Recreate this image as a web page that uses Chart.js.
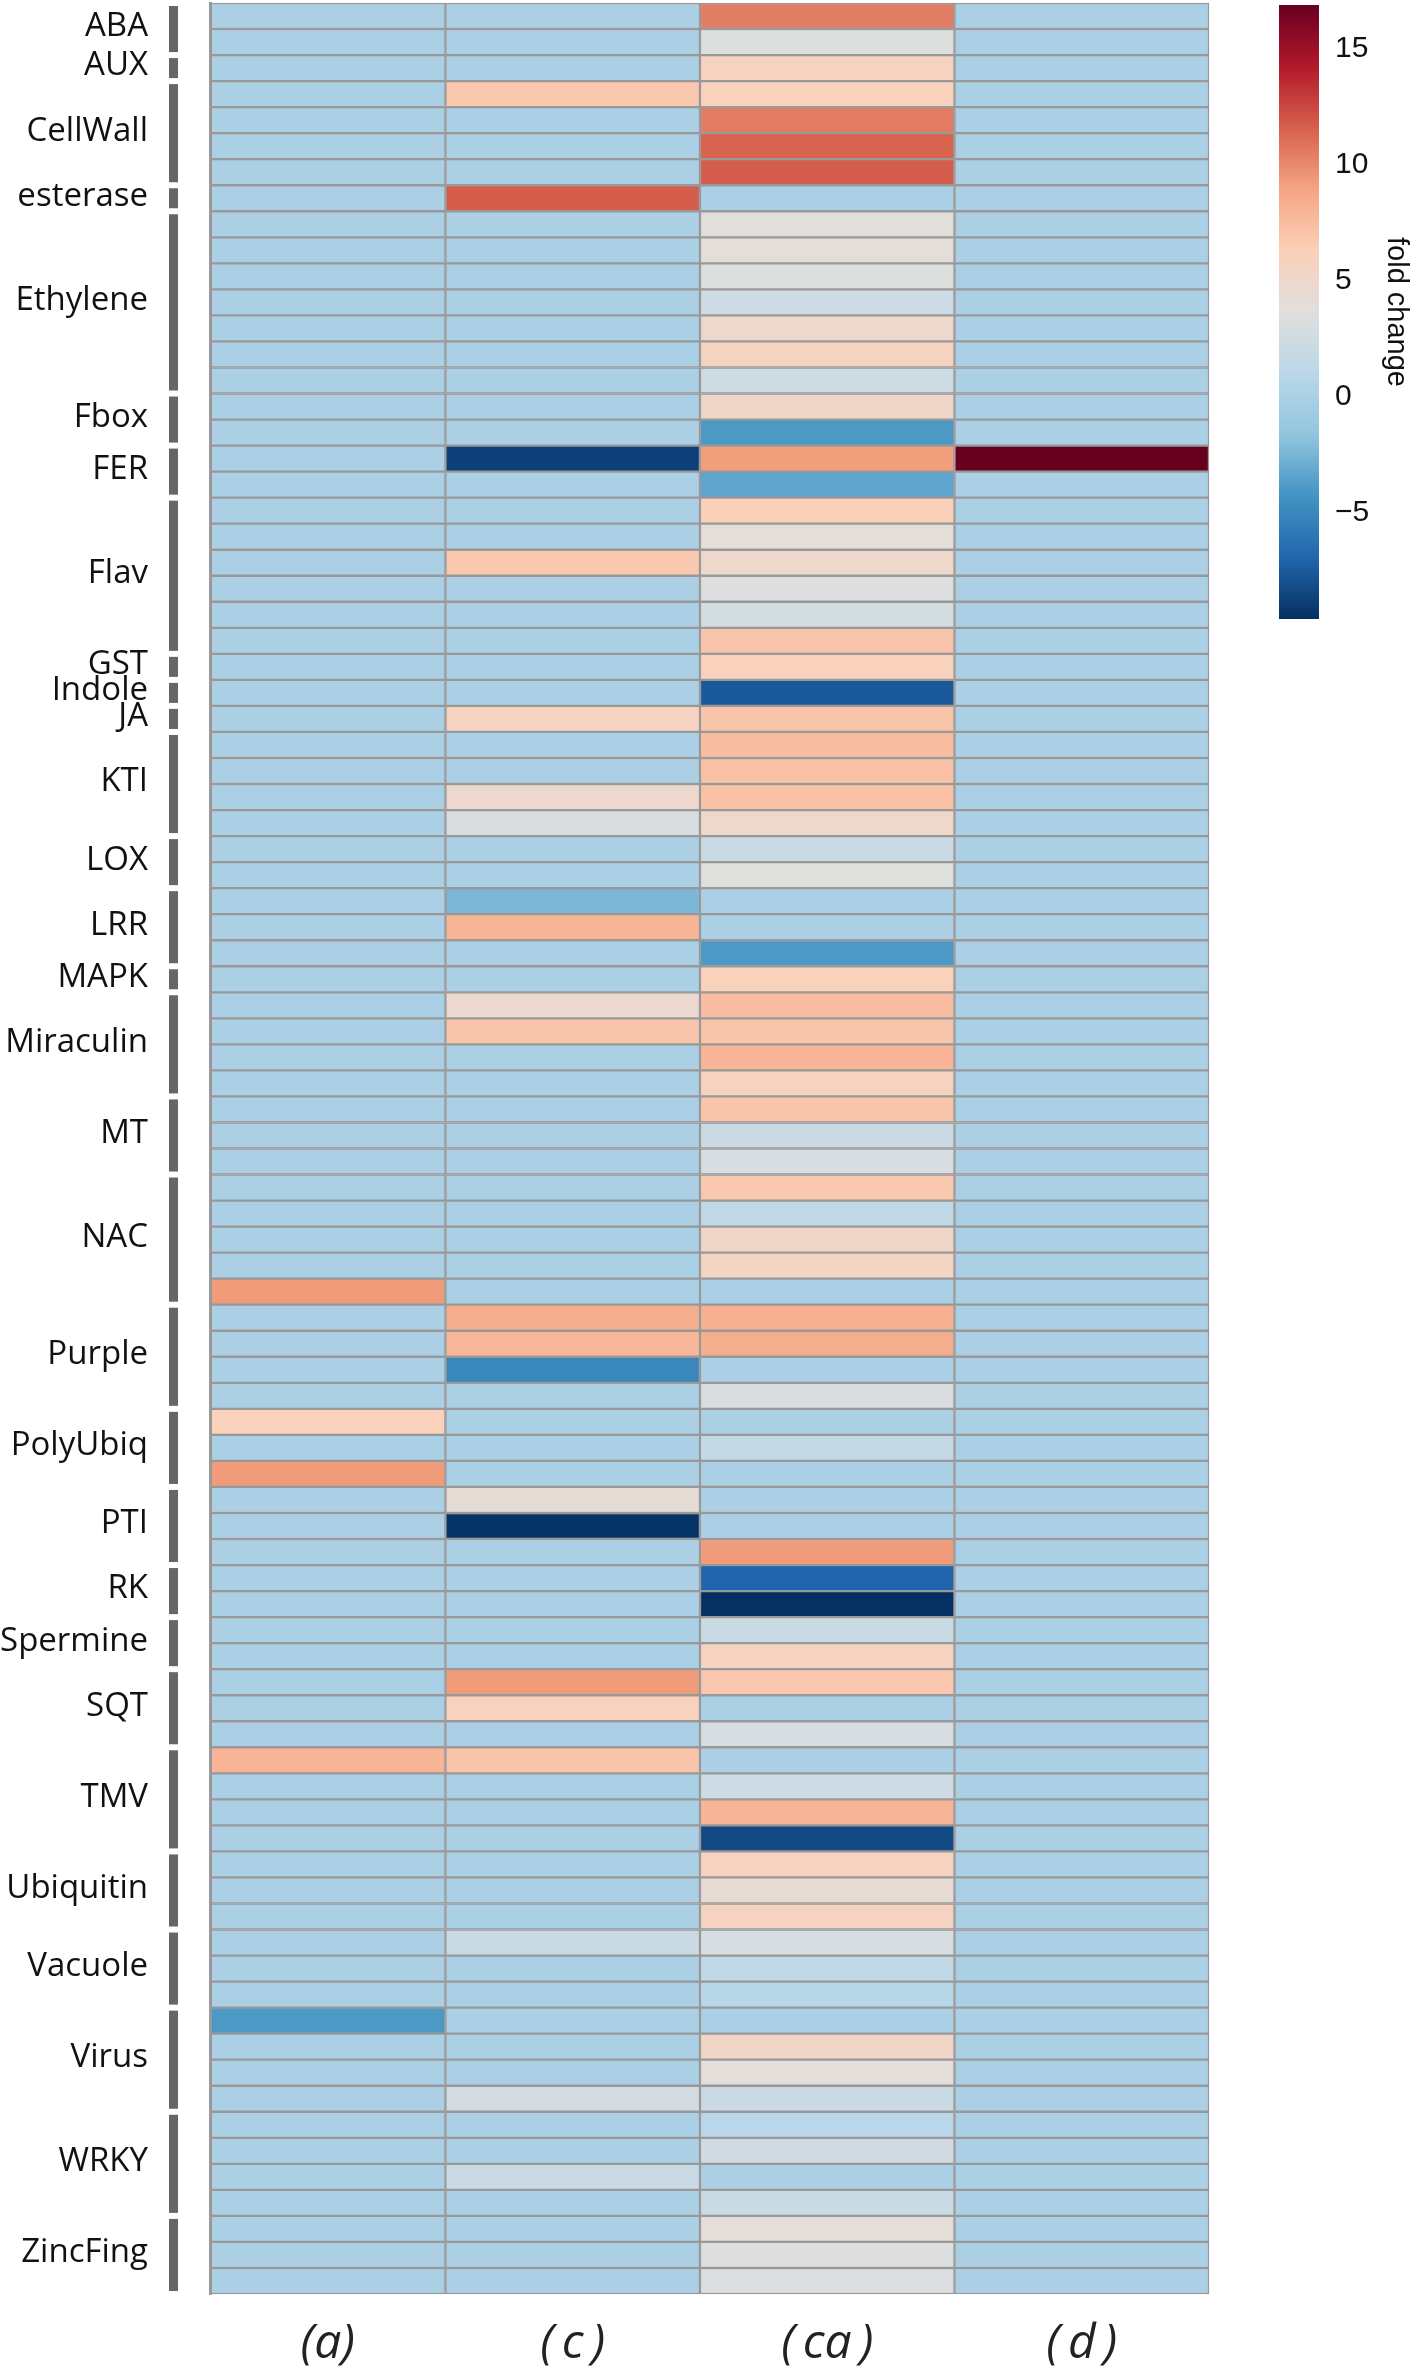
<!DOCTYPE html>
<html>
<head>
<meta charset="utf-8">
<title>fold change heatmap</title>
<script src="https://cdn.jsdelivr.net/npm/chart.js@4.4.1/dist/chart.umd.min.js"></script>
<style>
  html, body { margin: 0; padding: 0; background: #fff; }
  #wrap { position: relative; width: 1418px; height: 2372px; overflow: hidden; }
  #heat { position: absolute; left: 0; top: 0; width: 1418px; height: 2372px; }
  #bar { position: absolute; left: 1279px; top: 0; width: 139px; height: 640px; }
</style>
</head>
<body>
<div id="wrap">
  <canvas id="heat" width="1418" height="2372"></canvas>
  <canvas id="bar" width="139" height="640"></canvas>
</div>
<script>
// gene groups (top to bottom) and how many rows each one has
const groups = ["ABA", "AUX", "CellWall", "esterase", "Ethylene", "Fbox", "FER", "Flav", "GST", "Indole",
  "JA", "KTI", "LOX", "LRR", "MAPK", "Miraculin", "MT", "NAC", "Purple", "PolyUbiq",
  "PTI", "RK", "Spermine", "SQT", "TMV", "Ubiquitin", "Vacuole", "Virus", "WRKY", "ZincFing"];
const groupSizes = [2, 1, 4, 1, 7, 2, 2, 6, 1, 1,
  1, 4, 2, 3, 1, 4, 3, 5, 4, 3,
  3, 2, 2, 3, 4, 3, 3, 4, 4, 3];

const columns = ["(a)", "(\u2009c\u2009)", "(\u2009ca\u2009)", "(\u2009d\u2009)"];

// fold change per row, one array per column (rows in group order)
const valsA = [
  0, 0,  0,  0, 0, 0, 0,  0,  0, 0, 0, 0, 0, 0, 0,  0, 0,  0, 0,
  0, 0, 0, 0, 0, 0,  0,  0,  0,  0, 0, 0, 0,  0, 0,  0, 0, 0,  0,
  0, 0, 0, 0,  0, 0, 0,  0, 0, 0, 0, 9.3,  0, 0, 0, 0,  6.2, 0, 9.3,
  0, 0, 0,  0, 0,  0, 0,  0, 0, 0,  8.0, 0, 0, 0,  0, 0, 0,  0, 0, 0,
  -4.0, 0, 0, 0,  0, 0, 0, 0,  0, 0, 0
];
const valsC = [
  0, 0,  0,  6.8, 0, 0, 0,  11.7,  0, 0, 0, 0, 0, 0, 0,  0, 0,  -8.8, 0,
  0, 0, 6.8, 0, 0, 0,  0,  0,  5.7,  0, 0, 4.8, 3.1,  0, 0,  -2.4, 8.0, 0,  0,
  4.7, 7.0, 0, 0,  0, 0, 0,  0, 0, 0, 0, 0,  8.4, 7.8, -5.0, 0,  0, 0, 0,
  4.2, -9.4, 0,  0, 0,  0, 0,  9.3, 6.0, 0,  7.0, 0, 0, 0,  0, 0, 0,  2.1, 0, 0,
  0, 0, 0, 2.8,  0, 0, 2.0, 0,  0, 0, 0
];
const valsCA = [
  10.5, 3.4,  5.8,  6.2, 10.5, 11.5, 11.7,  0,  3.8, 3.9, 3.4, 2.2, 4.8, 5.8, 2.2,  5.2, -4.0,  9.2, -3.4,
  6.3, 4.0, 5.0, 3.3, 2.7, 7.0,  6.0,  -7.6,  7.0,  7.5, 7.3, 7.2, 5.0,  2.0, 3.5,  0, 0, -4.0,  6.2,
  7.5, 7.0, 8.0, 5.8,  7.0, 2.0, 3.0,  6.8, 1.5, 5.2, 5.5, 0,  8.2, 8.4, 0, 3.1,  0, 1.6, 0,
  0, 0, 9.3,  -7.0, -9.6,  2.0, 5.8,  6.8, 0, 3.0,  0, 2.2, 8.0, -8.3,  5.8, 4.3, 5.8,  3.0, 1.5, 0.8,
  0, 5.3, 3.9, 2.0,  1.0, 2.5, 0, 2.0,  4.0, 3.3, 3.3
];
const valsD = [
  0, 0,  0,  0, 0, 0, 0,  0,  0, 0, 0, 0, 0, 0, 0,  0, 0,  16.9, 0,
  0, 0, 0, 0, 0, 0,  0,  0,  0,  0, 0, 0, 0,  0, 0,  0, 0, 0,  0,
  0, 0, 0, 0,  0, 0, 0,  0, 0, 0, 0, 0,  0, 0, 0, 0,  0, 0, 0,
  0, 0, 0,  0, 0,  0, 0,  0, 0, 0,  0, 0, 0, 0,  0, 0, 0,  0, 0, 0,
  0, 0, 0, 0,  0, 0, 0, 0,  0, 0, 0
];

// colour scale limits and colour bar ticks
const vMin = -9.6;
const vMax = 16.9;
const cbTicks = [-5, 0, 5, 10, 15];

// RdBu_r style colour map, evenly spaced stops
const cmapStops = ["#053061", "#2166ac", "#4393c3", "#92c5de", "#bad7e9", "#e1dfdd",
  "#fbd0b9", "#f4a582", "#d6604d", "#b2182b", "#67001f"];

function hexToRgb(h) {
  return [parseInt(h.slice(1, 3), 16), parseInt(h.slice(3, 5), 16), parseInt(h.slice(5, 7), 16)];
}
const stopRgb = cmapStops.map(hexToRgb);

function colorFor(v) {
  let t = (v - vMin) / (vMax - vMin);
  t = Math.max(0, Math.min(1, t));
  const pos = t * (stopRgb.length - 1);
  const i = Math.min(Math.floor(pos), stopRgb.length - 2);
  const f = pos - i;
  const a = stopRgb[i], b = stopRgb[i + 1];
  const c = a.map((x, k) => Math.round(x + (b[k] - x) * f));
  return "rgb(" + c.join(",") + ")";
}

const rowLabels = [];
groups.forEach((g, i) => {
  for (let k = 0; k < groupSizes[i]; k++) rowLabels.push(g);
});

// group names and dark bars on the left of the heatmap
const groupBars = {
  id: "groupBars",
  afterDraw(chart) {
    const ctx = chart.ctx;
    const y = chart.scales.y;
    const band = y.getPixelForValue(1) - y.getPixelForValue(0);
    let start = 0;
    ctx.save();
    ctx.font = '33px "Open Sans"';
    ctx.textAlign = "right";
    ctx.textBaseline = "middle";
    groups.forEach((name, g) => {
      const end = start + groupSizes[g] - 1;
      const top = y.getPixelForValue(start) - band / 2;
      const bottom = y.getPixelForValue(end) + band / 2;
      ctx.fillStyle = "#666";
      ctx.fillRect(169, top + 3, 9, bottom - top - 6);
      ctx.fillStyle = "#111";
      ctx.fillText(name, 148, (top + bottom) / 2 - 2);
      start = end + 1;
    });
    ctx.restore();
  }
};

const seriesVals = [valsA, valsC, valsCA, valsD];
const xMin = 0.075; // first column is partly cut off, as in the figure

new Chart(document.getElementById("heat"), {
  type: "bar",
  data: {
    labels: rowLabels,
    datasets: seriesVals.map((vals, c) => ({
      label: columns[c],
      data: vals.map(() => [c, c + 1]),
      backgroundColor: vals.map(colorFor),
      borderColor: "#999",
      borderWidth: 1.5,
      borderSkipped: false,
      grouped: false,
      barPercentage: 1,
      categoryPercentage: 1,
      clip: { left: 0, top: false, right: false, bottom: false }
    }))
  },
  options: {
    indexAxis: "y",
    responsive: false,
    maintainAspectRatio: false,
    animation: false,
    layout: { padding: { left: 210, right: 209, top: 3, bottom: 0 } },
    plugins: { legend: { display: false }, tooltip: { enabled: false } },
    scales: {
      x: {
        type: "linear",
        position: "bottom",
        min: xMin,
        max: columns.length,
        grid: { display: false, drawTicks: false },
        border: { display: false },
        ticks: {
          font: { family: '"Open Sans"', size: 48, style: "italic" },
          color: "#222",
          padding: 22,
          maxRotation: 0,
          callback: (v, i) => columns[i]
        },
        // one tick in the middle of each visible column
        afterBuildTicks: s => {
          s.ticks = columns.map((c, i) => ({ value: (Math.max(i, xMin) + i + 1) / 2 }));
        },
        afterFit: s => { s.height = 78; }
      },
      y: {
        grid: { display: false, drawTicks: false },
        ticks: { display: false },
        border: { display: true, color: "#999", width: 3, z: 1 },
        afterFit: s => { s.width = 0; }
      }
    }
  },
  plugins: [groupBars]
});

function gradientFill(ctx) {
  const chart = ctx.chart;
  const y = chart.scales.y;
  if (!chart.chartArea || !y) return cmapStops[5];
  const y0 = y.getPixelForValue(vMin);
  const y1 = y.getPixelForValue(vMax);
  if (!isFinite(y0) || !isFinite(y1)) return cmapStops[5];
  const g = chart.ctx.createLinearGradient(0, y0, 0, y1);
  cmapStops.forEach((c, i) => g.addColorStop(i / (cmapStops.length - 1), c));
  return g;
}

new Chart(document.getElementById("bar"), {
  type: "bar",
  data: {
    labels: [""],
    datasets: [{
      data: [[vMin, vMax]],
      backgroundColor: gradientFill,
      borderWidth: 0,
      barPercentage: 1,
      categoryPercentage: 1
    }]
  },
  options: {
    responsive: false,
    maintainAspectRatio: false,
    animation: false,
    layout: { padding: { left: 0, right: 0, top: 5, bottom: 21 } },
    plugins: { legend: { display: false }, tooltip: { enabled: false } },
    scales: {
      x: { display: false },
      y: {
        position: "right",
        min: vMin,
        max: vMax,
        grid: { display: false, drawTicks: false },
        border: { display: false },
        ticks: {
          font: { family: '"Liberation Sans", Arial', size: 30 },
          color: "#111",
          padding: 16,
          callback: v => (v < 0 ? "\u2212" + Math.abs(v) : String(v))
        },
        afterBuildTicks: s => { s.ticks = cbTicks.map(v => ({ value: v })); },
        afterFit: s => { s.width = 99; s.paddingTop = 0; s.paddingBottom = 0; },
        title: {
          display: true,
          text: "fold change",
          font: { family: '"Liberation Sans", Arial', size: 29 },
          color: "#111",
          padding: { top: 5, bottom: 0 }
        }
      }
    }
  }
});
</script>
</body>
</html>
